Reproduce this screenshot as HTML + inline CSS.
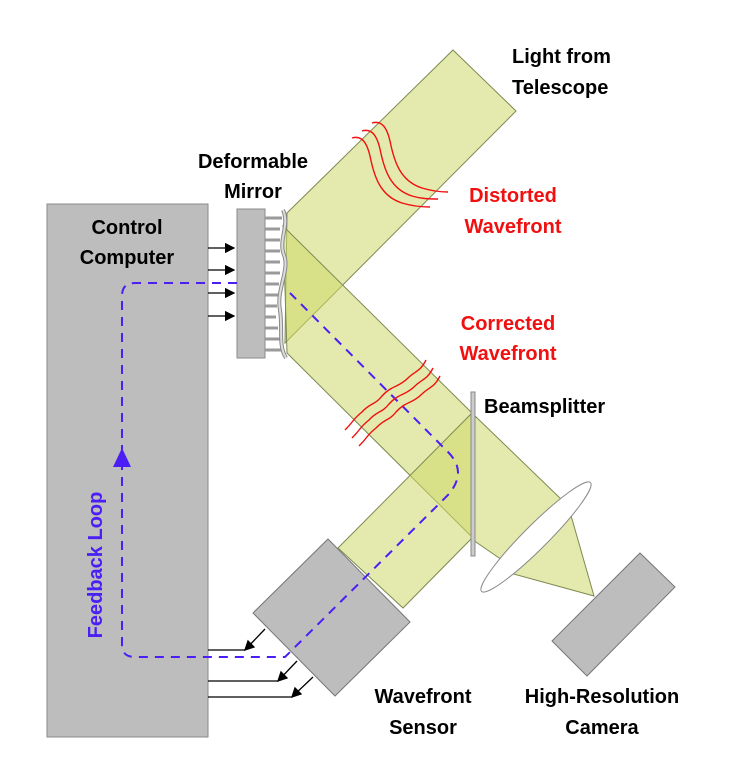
<!DOCTYPE html>
<html><head><meta charset="utf-8"><style>
body{margin:0;background:#fff}
svg text{font-family:"Liberation Sans",sans-serif;font-weight:bold;font-size:20px}
</style></head><body>
<svg width="733" height="767" viewBox="0 0 733 767">
<defs><marker id="ah" markerWidth="8" markerHeight="8" refX="7" refY="4" orient="auto"><path d="M0,0 L8,4 L0,8 z" fill="#000"/></marker></defs>
<g stroke="#7d8a50" stroke-width="1" fill="#cdd86a" fill-opacity="0.55">
<polygon points="453,50 516,111 285,343 287,213"/>
<polygon points="283,226 473,414 473,538 287,353"/>
<polygon points="473,414 562,500 505,562 473,540"/>
<polygon points="473,412 473,537 403,608 338,548"/>
<polygon points="570,512 510,573 594,596"/>
</g>
<rect x="47" y="204" width="161" height="533" fill="#bdbdbd" stroke="#8a8a8a"/>
<g>
<rect x="237" y="209" width="28" height="149" fill="#bdbdbd" stroke="#8a8a8a"/>
<g stroke="#9a9a9a" stroke-width="3">
<line x1="265" y1="218" x2="282" y2="218"/><line x1="265" y1="229" x2="280" y2="229"/><line x1="265" y1="240" x2="280" y2="240"/><line x1="265" y1="251" x2="280" y2="251"/><line x1="265" y1="262" x2="280" y2="262"/><line x1="265" y1="273" x2="280" y2="273"/><line x1="265" y1="284" x2="279" y2="284"/><line x1="265" y1="295" x2="278" y2="295"/><line x1="265" y1="306" x2="277" y2="306"/><line x1="265" y1="317" x2="276" y2="317"/><line x1="265" y1="328" x2="278" y2="328"/><line x1="265" y1="339" x2="280" y2="339"/><line x1="265" y1="350" x2="282" y2="350"/>
</g>
<path d="M283,210 C290,225 278,240 284,255 C290,270 276,290 280,310 C283,330 278,345 286,358" fill="none" stroke="#888" stroke-width="4"/>
<path d="M283,210 C290,225 278,240 284,255 C290,270 276,290 280,310 C283,330 278,345 286,358" fill="none" stroke="#ddd" stroke-width="2"/>
</g>
<rect x="471" y="392" width="4" height="164" fill="#ccc" stroke="#888"/>
<ellipse cx="536" cy="537" rx="77" ry="12" transform="rotate(-45 536 537)" fill="#fff" stroke="#888"/>
<polygon points="328,539 410,622 335,696 253,613" fill="#bdbdbd" stroke="#777"/>
<polygon points="640,553 675,587 587,676 552,641" fill="#bdbdbd" stroke="#777"/>
<g stroke="#000" stroke-width="1.3" fill="none" marker-end="url(#ah)">
<line x1="208" y1="248" x2="234" y2="248"/><line x1="208" y1="270" x2="234" y2="270"/><line x1="208" y1="293" x2="234" y2="293"/><line x1="208" y1="316" x2="234" y2="316"/>
</g>
<g stroke="#000" stroke-width="1.3" fill="none">
<polyline points="265,629 245,650 208,650" /><polyline points="297,661 278,681 208,681"/><polyline points="313,677 292,697 208,697"/>
<path d="M245,650 l3,-9 l6,6 z" fill="#000"/><path d="M278,681 l3,-9 l6,6 z" fill="#000"/><path d="M292,697 l3,-9 l6,6 z" fill="#000"/>
</g>
<path d="M237,283 L135,283 Q122,283 122,296 L122,645 Q122,657 135,657 L285,657 L448,495 Q468,472 448,452 L290,293" fill="none" stroke="#4a1ef5" stroke-width="2" stroke-dasharray="9,7"/>
<polygon points="122,448 113,467 131,467" fill="#4a1ef5"/>
<g stroke="#f01010" stroke-width="1.4" fill="none">
<path transform="translate(352,138)" d="M0,0 C10,-3 15,5 18,18 C22,38 28,58 50,65 C60,68 70,69 78,69"/>
<path transform="translate(362,131)" d="M0,0 C10,-3 15,5 18,18 C22,38 28,58 50,65 C60,68 68,68 76,68"/>
<path transform="translate(372,123)" d="M0,0 C10,-3 15,5 18,18 C22,38 28,58 50,65 C60,68 68,69 76,69"/>
</g>
<g stroke="#f01010" stroke-width="1.4" fill="none">
<path d="M345,430 C355,420 352,420 362,412 C370,403 375,405 382,396 C392,385 398,388 408,378 C415,371 420,372 426,360"/>
<path d="M352,438 C362,428 359,428 369,420 C377,411 382,413 389,404 C399,393 405,396 415,386 C422,379 427,380 433,368"/>
<path d="M359,446 C369,436 366,436 376,428 C384,419 389,421 396,412 C406,401 412,404 422,394 C429,387 434,388 440,376"/>
</g>
<text x="512" y="63">Light from</text>
<text x="512" y="94">Telescope</text>
<text x="253" y="168" text-anchor="middle">Deformable</text>
<text x="253" y="198" text-anchor="middle">Mirror</text>
<text x="127" y="234" text-anchor="middle">Control</text>
<text x="127" y="264" text-anchor="middle">Computer</text>
<text x="513" y="202" text-anchor="middle" fill="#f01010">Distorted</text>
<text x="513" y="233" text-anchor="middle" fill="#f01010">Wavefront</text>
<text x="508" y="330" text-anchor="middle" fill="#f01010">Corrected</text>
<text x="508" y="360" text-anchor="middle" fill="#f01010">Wavefront</text>
<text x="484" y="413">Beamsplitter</text>
<text x="423" y="703" text-anchor="middle">Wavefront</text>
<text x="423" y="734" text-anchor="middle">Sensor</text>
<text x="602" y="703" text-anchor="middle">High-Resolution</text>
<text x="602" y="734" text-anchor="middle">Camera</text>
<text x="0" y="0" fill="#4a1ef5" text-anchor="middle" transform="translate(102,565) rotate(-90)">Feedback Loop</text>
</svg>
</body></html>
